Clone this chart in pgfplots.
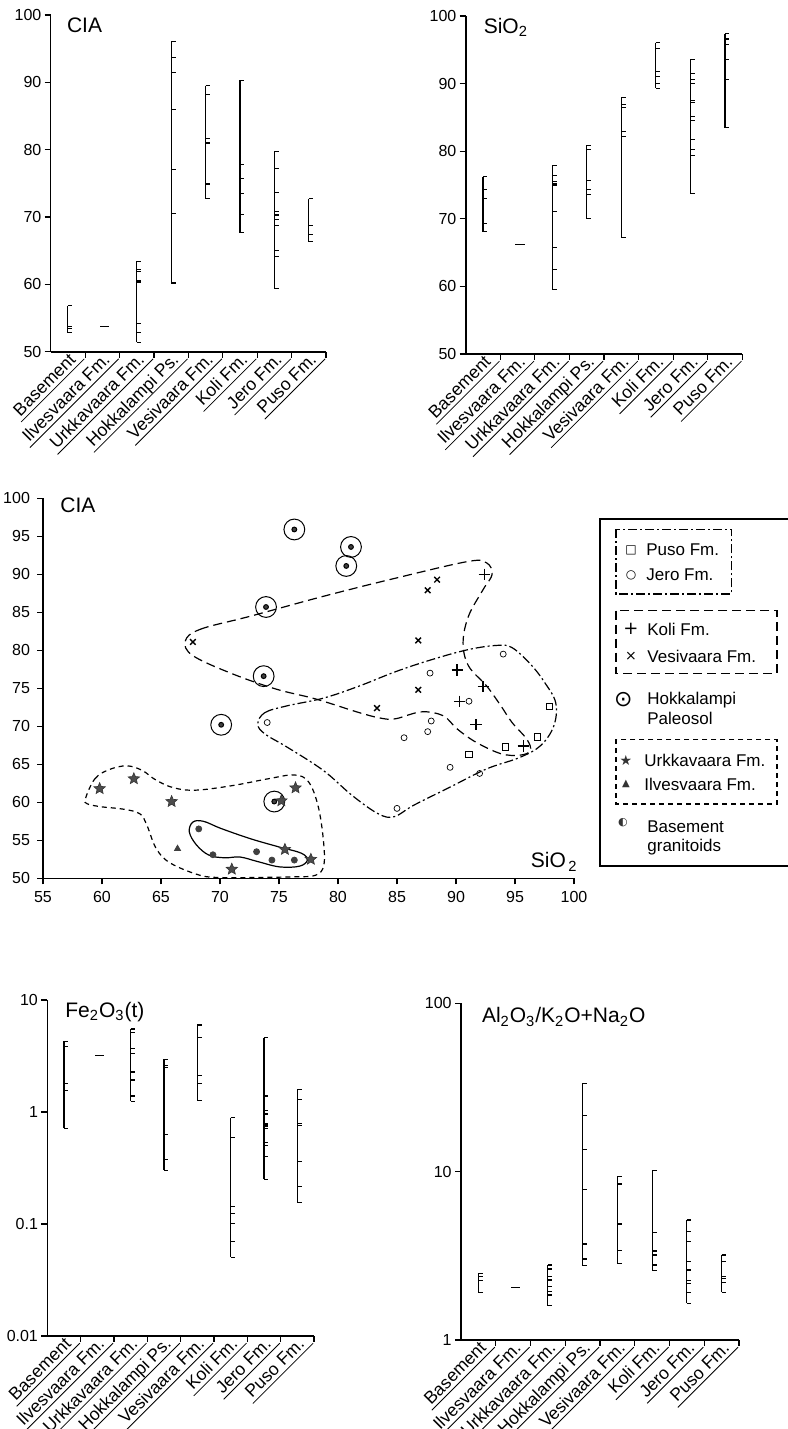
\documentclass[border=0pt]{standalone}
\usepackage{fontspec}
\setmainfont{Liberation Sans}
\newfontfamily\sym{DejaVu Sans}
\usepackage{pgfplots}
\pgfplotsset{compat=1.18}

% short tick to the right of the range line
\pgfdeclareplotmark{rtick}{%
  \pgfpathmoveto{\pgfpointorigin}%
  \pgfpathlineto{\pgfqpoint{\pgfplotmarksize}{0pt}}%
  \pgfusepathqstroke}
\pgfdeclareplotmark{ctick}{%
  \pgfpathmoveto{\pgfqpoint{-0.3\pgfplotmarksize}{0pt}}%
  \pgfpathlineto{\pgfqpoint{\pgfplotmarksize}{0pt}}%
  \pgfusepathqstroke}
% filled five point star
\pgfdeclareplotmark{fstar}{%
  \pgfpathmoveto{\pgfpointpolar{90}{\pgfplotmarksize}}%
  \pgfpathlineto{\pgfpointpolar{126}{0.45\pgfplotmarksize}}%
  \pgfpathlineto{\pgfpointpolar{162}{\pgfplotmarksize}}%
  \pgfpathlineto{\pgfpointpolar{198}{0.45\pgfplotmarksize}}%
  \pgfpathlineto{\pgfpointpolar{234}{\pgfplotmarksize}}%
  \pgfpathlineto{\pgfpointpolar{270}{0.45\pgfplotmarksize}}%
  \pgfpathlineto{\pgfpointpolar{306}{\pgfplotmarksize}}%
  \pgfpathlineto{\pgfpointpolar{342}{0.45\pgfplotmarksize}}%
  \pgfpathlineto{\pgfpointpolar{18}{\pgfplotmarksize}}%
  \pgfpathlineto{\pgfpointpolar{54}{0.45\pgfplotmarksize}}%
  \pgfpathclose\pgfusepathqfillstroke}
% dot in a circle (Hokkalampi paleosol)
\pgfdeclareplotmark{hok}{%
  \pgfpathcircle{\pgfpointorigin}{1.2pt}\pgfusepathqfillstroke
  \pgfpathcircle{\pgfpointorigin}{\pgfplotmarksize}\pgfusepathqstroke}

% underlined category names
\newlength\ulw
\protected\def\ul#1{\settowidth\ulw{#1}\addtolength\ulw{5pt}%
  \ifdim\ulw<34pt \setlength\ulw{34pt}\fi
  \underline{\makebox[\ulw][r]{\raisebox{0pt}[\height][0pt]{#1}\rule[-0.6pt]{0pt}{0pt}\hspace*{3.5pt}}}}

\pgfplotsset{
  rng/.style={black, solid, line width=0.55pt, mark=rtick, mark size=2.2pt, mark options={solid, black}},
  one/.style={rng, mark=ctick, mark size=3.5pt},
  rangeax/.style={
    scale only axis, anchor=south west, clip=false,
    axis lines=left, axis line style={-, line width=0.8pt},
    tick align=outside, major tick length=3pt,
    tick style={black, line width=0.6pt},
    minor tick length=0pt,
    xmin=0.5, xmax=8.5, xtick={1.5,2.5,...,8.5},
    xticklabels={\ul{Basement},\ul{Ilvesvaara Fm.},\ul{Urkkavaara Fm.},\ul{Hokkalampi Ps.},\ul{Vesivaara Fm.},\ul{Koli Fm.},\ul{Jero Fm.},\ul{Puso Fm.}},
    xticklabel style={rotate=45, anchor=south east, inner sep=0pt, outer sep=0pt,
      font=\fontsize{8.8}{10}\selectfont},
    xticklabel shift=1pt,
    yticklabel style={font=\fontsize{8}{9}\selectfont, inner sep=1.5pt},
    /pgf/number format/assume math mode=true,
  },
}

\begin{document}
\begin{tikzpicture}
\useasboundingbox (0,0) rectangle (393.5pt,-714.5pt);

% ---------- CIA ranges ----------
\begin{axis}[rangeax, at={(25.35pt,-175.85pt)}, width=137.65pt, height=168.35pt,
  ymin=50, ymax=100, ytick={50,60,...,100}]
\addplot[rng] coordinates {(1,56.8)(1,53.8)(1,53.4)(1,52.8)};
\addplot[one] coordinates {(2,53.7)};
\addplot[rng] coordinates {(3,63.4)(3,62.2)(3,61.9)(3,60.5)(3,60.3)(3,54.2)(3,52.9)(3,51.4)};
\addplot[rng] coordinates {(4,96.1)(4,93.7)(4,91.5)(4,86.0)(4,77.0)(4,70.5)(4,60.2)};
\addplot[rng] coordinates {(5,89.5)(5,88.2)(5,81.6)(5,81.0)(5,74.9)(5,72.7)};
\addplot[rng] coordinates {(6,90.3)(6,77.8)(6,75.7)(6,73.5)(6,70.4)(6,67.7)};
\addplot[rng] coordinates {(7,79.7)(7,77.2)(7,73.6)(7,70.8)(7,70.3)(7,69.6)(7,68.8)(7,65.0)(7,64.2)(7,59.4)};
\addplot[rng] coordinates {(8,72.7)(8,68.7)(8,67.4)(8,66.3)};
\end{axis}

% ---------- SiO2 ranges ----------
\begin{axis}[rangeax, at={(232.85pt,-177pt)}, width=138.3pt, height=169pt,
  ymin=50, ymax=100, ytick={50,60,...,100}]
\addplot[rng] coordinates {(1,76.2)(1,74.4)(1,73.0)(1,69.3)(1,68.1)};
\addplot[one] coordinates {(2,66.2)};
\addplot[rng] coordinates {(3,77.9)(3,76.4)(3,75.5)(3,75.2)(3,75.0)(3,71.05)(3,65.8)(3,62.5)(3,59.6)};
\addplot[rng] coordinates {(4,80.9)(4,80.3)(4,75.7)(4,74.4)(4,73.6)(4,70.0)};
\addplot[rng] coordinates {(5,88.0)(5,86.9)(5,86.4)(5,82.9)(5,82.2)(5,67.2)};
\addplot[rng] coordinates {(6,96.05)(6,95.2)(6,91.8)(6,91.1)(6,90.0)(6,89.3)};
\addplot[rng] coordinates {(7,93.6)(7,91.5)(7,90.6)(7,90.0)(7,87.5)(7,87.2)(7,85.1)(7,84.5)(7,81.7)(7,80.3)(7,79.3)(7,73.8)};
\addplot[rng] coordinates {(8,97.4)(8,96.6)(8,95.8)(8,93.5)(8,90.6)(8,83.5)};
\end{axis}

% ---------- CIA vs SiO2 ----------
\begin{axis}[scale only axis, anchor=south west, at={(21.5pt,-439.15pt)},
  width=265.5pt, height=190pt, clip=false,
  xmin=55, xmax=100, ymin=50, ymax=100,
  xtick={55,60,...,100}, ytick={50,55,...,100},
  axis lines=left, axis line style={-, line width=0.8pt},
  tick align=outside, major tick length=3pt, tick style={black, line width=0.6pt},
  ticklabel style={font=\fontsize{8}{9}\selectfont},
  /pgf/number format/assume math mode=true]
% Hokkalampi paleosol
\addplot[only marks, mark=hok, mark size=5.2pt, mark options={fill=black!75, draw=black, line width=0.5pt}]
  coordinates {(76.3,95.9)(81.1,93.6)(80.7,91.1)(73.9,85.7)(73.7,76.6)(70.1,70.2)(74.6,60.1)};
% Vesivaara
\addplot[only marks, mark=x, mark size=2pt, mark options={line width=0.7pt}]
  coordinates {(67.7,81.1)(87.6,87.9)(88.4,89.3)(86.8,81.3)(86.8,74.8)(83.3,72.4)};
% Koli
\addplot[only marks, mark=+, mark size=2.8pt, mark options={line width=0.7pt}]
  coordinates {(92.4,90.0)(90.1,77.4)(92.3,75.2)(90.3,73.3)(91.7,70.2)(95.7,67.4)};
% Jero
\addplot[only marks, mark=o, mark size=1.5pt, mark options={line width=0.35pt}]
  coordinates {(94.0,79.5)(87.8,77.0)(91.1,73.3)(74.0,70.5)(87.9,70.7)(87.6,69.3)(85.6,68.5)(89.5,64.6)(92.0,63.8)(85.0,59.2)};
% Puso
\addplot[only marks, mark=square, mark size=1.6pt, mark options={line width=0.45pt}]
  coordinates {(97.9,72.6)(96.9,68.6)(94.2,67.3)(91.1,66.3)};
% Urkkavaara
\addplot[only marks, mark=fstar, mark size=3pt, mark options={fill=black!70, draw=black!80, line width=0.3pt}]
  coordinates {(59.8,61.8)(62.7,63.1)(65.9,60.1)(75.2,60.2)(76.4,61.9)(75.5,53.8)(77.7,52.5)(71.0,51.2)};
% Ilvesvaara
\addplot[only marks, mark=triangle*, mark size=1.7pt, mark options={fill=black!75, draw=black!75}]
  coordinates {(66.4,53.9)};
% Basement granitoids
\addplot[only marks, mark=*, mark size=1.5pt, mark options={fill=black!75, draw=black!75}]
  coordinates {(68.2,56.5)(69.4,53.1)(73.1,53.5)(74.4,52.4)(76.3,52.4)};
% field outlines
\draw[line width=0.6pt, dash pattern=on 4.5pt off 2.5pt] plot[smooth cycle, tension=0.6] coordinates {
  (67.06,81.2)(68.3,82.75)(72.6,84.5)(78.75,87.1)(84.9,89.5)(91.06,91.7)(92.6,91.5)(93.06,90.0)
  (92.3,88.0)(91.06,84.5)(90.6,81.0)(91.06,77.95)(92.6,75.3)(93.8,72.7)(94.75,70.5)(96.0,68.3)
  (96.3,66.8)(95.4,66.2)(93.8,66.4)(91.7,67.9)(90.1,69.65)(88.9,71.4)(87.06,71.9)(84.9,71.0)
  (83.7,71.05)(81.8,71.8)(78.1,73.6)(74.75,74.9)(71.06,76.9)(67.7,79.3)};
\draw[line width=0.6pt, dash pattern=on 4.5pt off 1.5pt on 1pt off 1.5pt] plot[smooth cycle, tension=0.6] coordinates {
  (73.2,70.3)(73.8,71.8)(75.7,72.7)(78.75,73.7)(81.8,75.3)(84.9,77.2)(88.0,78.8)(91.06,80.1)
  (93.5,80.65)(94.75,80.35)(96.3,78.2)(97.5,75.8)(98.45,73.1)(98.3,70.1)(97.2,67.5)(95.4,65.9)
  (92.6,64.4)(89.5,62.0)(86.4,59.6)(84.75,58.1)(83.4,58.5)(81.2,60.9)(78.75,64.2)(75.7,67.25)(73.8,69.0)};
\draw[line width=0.6pt, dash pattern=on 2.5pt off 2pt] plot[smooth cycle, tension=0.6] coordinates {
  (58.6,60.5)(59.4,63.1)(60.6,64.3)(62.1,64.8)(63.4,64.2)(64.6,62.9)(66.1,61.9)(67.98,61.6)
  (71.06,62.2)(74.1,63.1)(76.3,63.6)(77.5,62.7)(78.3,59.6)(78.75,55.2)(78.8,51.75)(78.1,50.4)
  (76.3,50.2)(72.6,50.1)(70.1,50.1)(68.3,50.4)(65.8,52.0)(64.6,53.9)(63.8,57.0)(63.2,58.5)
  (61.8,59.1)(60.0,59.4)(58.75,59.8)};
\draw[line width=0.6pt] plot[smooth cycle, tension=0.6] coordinates {
  (67.7,57.4)(68.6,57.5)(70.1,56.55)(72.6,55.2)(75.06,54.1)(76.9,53.3)(77.4,52.4)(76.75,51.6)
  (75.06,51.5)(73.2,52.2)(71.7,52.8)(70.4,52.7)(69.06,53.05)(68.0,54.4)(67.4,56.1)};
\end{axis}

% ---------- Fe2O3 ranges ----------
\begin{axis}[rangeax, at={(23.65pt,-668pt)}, width=133.35pt, height=168pt,
  ymode=log, ymin=0.01, ymax=10, ytick={0.01,0.1,1,10}, yticklabels={0.01,0.1,1,10}]
\addplot[rng] coordinates {(1,4.27)(1,3.88)(1,1.80)(1,1.57)(1,0.715)};
\addplot[one] coordinates {(2,3.18)};
\addplot[rng] coordinates {(3,5.51)(3,5.11)(3,3.68)(3,3.34)(3,2.29)(3,2.24)(3,1.93)(3,1.39)(3,1.25)};
\addplot[rng] coordinates {(4,2.97)(4,2.58)(4,2.51)(4,0.632)(4,0.378)(4,0.303)};
\addplot[rng] coordinates {(5,5.98)(5,4.64)(5,2.12)(5,1.80)(5,1.27)};
\addplot[rng] coordinates {(6,0.889)(6,0.590)(6,0.143)(6,0.1245)(6,0.1014)(6,0.0696)(6,0.0504)};
\addplot[rng] coordinates {(7,4.61)(7,1.39)(7,1.04)(7,0.96)(7,0.79)(7,0.766)(7,0.74)(7,0.715)(7,0.532)(7,0.507)(7,0.399)(7,0.252)};
\addplot[rng] coordinates {(8,1.60)(8,1.30)(8,0.79)(8,0.755)(8,0.363)(8,0.215)(8,0.155)};
\end{axis}

% ---------- Al2O3/(K2O+Na2O) ranges ----------
\begin{axis}[rangeax, at={(230.5pt,-670pt)}, width=139pt, height=168.35pt,
  ymode=log, ymin=1, ymax=100, ytick={1,10,100}, yticklabels={1,10,100}]
\addplot[rng] coordinates {(1,2.49)(1,2.38)(1,2.25)(1,1.91)};
\addplot[one] coordinates {(2,2.06)};
\addplot[rng] coordinates {(3,2.79)(3,2.64)(3,2.38)(3,2.30)(3,2.25)(3,2.07)(3,1.94)(3,1.85)(3,1.60)};
\addplot[rng] coordinates {(4,33.5)(4,21.5)(4,13.5)(4,7.85)(4,3.72)(4,3.03)(4,2.77)};
\addplot[rng] coordinates {(5,9.33)(5,8.45)(5,4.93)(5,4.86)(5,3.40)(5,2.85)};
\addplot[rng] coordinates {(6,10.2)(6,4.35)(6,3.38)(6,3.20)(6,2.79)(6,2.58)};
\addplot[rng] coordinates {(7,5.16)(7,4.41)(7,3.87)(7,2.94)(7,2.63)(7,2.58)(7,2.25)(7,2.17)(7,1.91)(7,1.65)};
\addplot[rng] coordinates {(8,3.20)(8,2.92)(8,2.38)(8,2.32)(8,2.20)(8,1.92)};
\end{axis}

% ---------- panel titles ----------
\begin{scope}[every node/.style={font=\fontsize{10.5}{12}\selectfont, inner sep=0pt, anchor=west}]
\node at (33.3pt,-12.5pt) {CIA};
\node at (241.7pt,-13.75pt) {SiO\textsubscript{2}};
\node at (30pt,-252.5pt) {CIA};
\node[anchor=east] at (289pt,-431pt) {SiO\textsubscript{\,2}};
\node at (32.5pt,-506pt) {Fe\textsubscript{2}O\textsubscript{3}(t)};
\node at (240.8pt,-508.5pt) {Al\textsubscript{2}O\textsubscript{3}/K\textsubscript{2}O+Na\textsubscript{2}O};
\end{scope}

% ---------- legend ----------
\draw[line width=0.8pt] (394pt,-259.5pt) -- (300pt,-259.5pt) -- (300pt,-433pt) -- (394pt,-433pt);
\draw[line width=0.6pt, dash pattern=on 4.5pt off 1.5pt on 1pt off 1.5pt] (308pt,-264.65pt) rectangle (365.85pt,-297pt);
\draw[line width=0.6pt, dash pattern=on 4.5pt off 2.5pt] (308pt,-305.35pt) rectangle (388.5pt,-336.65pt);
\draw[line width=0.6pt, dash pattern=on 2.5pt off 2pt] (308pt,-369.65pt) rectangle (388.5pt,-402pt);
\begin{scope}[every node/.style={font=\fontsize{8.5}{10}\selectfont, inner sep=0pt, anchor=west}]
\node at (323pt,-275pt) {Puso Fm.};
\node at (323pt,-287.5pt) {Jero Fm.};
\node at (323.5pt,-314.5pt) {Koli Fm.};
\node at (323.5pt,-328.35pt) {Vesivaara Fm.};
\node at (323.5pt,-350pt) {Hokkalampi};
\node at (323.5pt,-359.15pt) {Paleosol};
\node at (322pt,-380.35pt) {Urkkavaara Fm.};
\node at (322pt,-392pt) {Ilvesvaara Fm.};
\node at (323.5pt,-413.35pt) {Basement};
\node at (323.5pt,-423.35pt) {granitoids};
\end{scope}
\begin{scope}[every node/.style={inner sep=0pt, anchor=center}]
\node[font=\sym\fontsize{6}{6}\selectfont] at (315.5pt,-275pt) {□};
\node[font=\sym\fontsize{6}{6}\selectfont] at (315.5pt,-287.5pt) {○};
\node[font=\sym\fontsize{9}{9}\selectfont] at (315.5pt,-314.5pt) {+};
\node[font=\sym\fontsize{7}{7}\selectfont] at (315.5pt,-328.35pt) {×};
\node[font=\sym\fontsize{11}{11}\selectfont] at (311.65pt,-350pt) {⊙};
\node[font=\sym\fontsize{7}{7}\selectfont, text=black!80] at (313pt,-380.35pt) {★};
\node[font=\sym\fontsize{5}{5}\selectfont, text=black!80] at (313pt,-392pt) {▲};
\node[font=\sym\fontsize{5.5}{5.5}\selectfont, text=black!80] at (311.5pt,-411.5pt) {◐};
\end{scope}
\end{tikzpicture}
\end{document}
